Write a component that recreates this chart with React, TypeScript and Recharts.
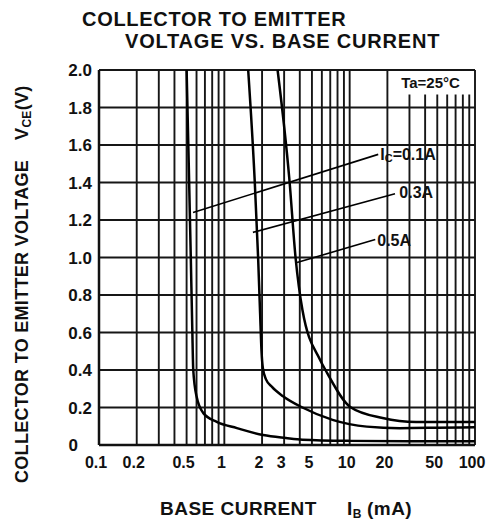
import { LineChart, Line, XAxis, YAxis, CartesianGrid, ReferenceLine, ReferenceArea, ReferenceDot } from 'recharts';

// grid positions on the log axis (every minor decade step)
const xGrid = [
  0.1, 0.2, 0.3, 0.4, 0.5, 0.6, 0.7, 0.8, 0.9,
  1, 2, 3, 4, 5, 6, 7, 8, 9,
  10, 20, 30, 40, 50, 60, 70, 80, 90, 100,
];
const xLabeled = [0.1, 0.2, 0.5, 1, 2, 3, 5, 10, 20, 50, 100];
const yTicks = [0, 0.2, 0.4, 0.6, 0.8, 1.0, 1.2, 1.4, 1.6, 1.8, 2.0];

// Ic = 0.1A
const ib01 = [0.5, 0.52, 0.54, 0.555, 0.565, 0.6, 0.68, 0.87, 1.26, 2.04, 3.1, 4.2, 10, 30, 100];
const vce01 = [2.0, 1.5, 1.0, 0.62, 0.4, 0.26, 0.17, 0.123, 0.09, 0.053, 0.037, 0.028, 0.022, 0.02, 0.02];

// Ic = 0.3A
const ib03 = [1.55, 1.75, 1.86, 1.93, 1.98, 2.03, 2.15, 2.4, 2.94, 4.2, 7.3, 13.7, 25, 50, 100];
const vce03 = [2.0, 1.4, 1.0, 0.7, 0.5, 0.41, 0.35, 0.31, 0.26, 0.2, 0.134, 0.098, 0.09, 0.092, 0.095];

// Ic = 0.5A
const ib05 = [2.66, 3.3, 3.7, 4.2, 5.8, 6.6, 10.1, 18.3, 34, 100];
const vce05 = [2.0, 1.42, 1.0, 0.72, 0.455, 0.385, 0.203, 0.144, 0.123, 0.123];

const toPoints = (xs: number[], ys: number[]) => xs.map((x, i) => ({ ib: x, vce: ys[i] }));

const FONT = '"Liberation Sans", Arial, sans-serif';

const XTick = ({ x, y, payload }: any) => {
  if (!xLabeled.includes(payload.value)) return null;
  return (
    <text x={x - 3} y={y + 15} textAnchor="middle" fontFamily={FONT} fontWeight="bold" fontSize={16} fill="#111">
      {payload.value}
    </text>
  );
};

const YTick = ({ x, y, payload }: any) => {
  const v = payload.value;
  const label = v === 0 ? '0' : v.toFixed(1);
  return (
    <text x={v === 0 ? x - 14 : x} y={y + 6} textAnchor="end" fontFamily={FONT} fontWeight="bold" fontSize={17} fill="#111">
      {label}
    </text>
  );
};

const CurveLabel = (text: string, sub?: string) => (props: any) => {
  const { viewBox } = props;
  const cx = viewBox.x ?? viewBox.cx;
  const cy = viewBox.y ?? viewBox.cy;
  return (
    <text x={cx + 2} y={cy + 6} fontFamily={FONT} fontWeight="bold" fontSize={16} fill="#111">
      {sub ? (
        <>
          {text}
          <tspan fontSize={11} dy={2}>{sub}</tspan>
          <tspan dy={-2}>=0.1A</tspan>
        </>
      ) : text}
    </text>
  );
};

export default function App() {
  return (
    <div style={{ position: 'absolute', left: 0, top: 0, width: 488, height: 521, background: '#fff' }}>
      <LineChart width={488} height={521} margin={{ top: 70, right: 13, bottom: 46, left: 39 }}>
        <CartesianGrid stroke="#161616" strokeWidth={1.9} />
        <XAxis
          dataKey="ib"
          type="number"
          scale="log"
          domain={[0.1, 100]}
          ticks={xGrid}
          allowDataOverflow
          height={30}
          tickLine={false}
          axisLine={{ stroke: '#111', strokeWidth: 2.5 }}
          tick={<XTick />}
          interval={0}
        />
        <YAxis
          type="number"
          domain={[0, 2]}
          ticks={yTicks}
          width={60}
          tickLine={false}
          tickSize={0}
          tickMargin={7}
          axisLine={{ stroke: '#111', strokeWidth: 2.5 }}
          tick={<YTick />}
          interval={0}
        />
        <ReferenceArea x1={21} x2={93} y1={1.87} y2={1.995} fill="#fff" fillOpacity={1} stroke="none"
          label={{ value: 'Ta=25°C', position: 'center', fontFamily: FONT, fontWeight: 'bold', fontSize: 15, fill: '#111' }} />
        <Line data={toPoints(ib01, vce01)} dataKey="vce" type="monotone" stroke="#000" strokeWidth={2.5} dot={false} isAnimationActive={false} />
        <Line data={toPoints(ib03, vce03)} dataKey="vce" type="monotone" stroke="#000" strokeWidth={2.5} dot={false} isAnimationActive={false} />
        <Line data={toPoints(ib05, vce05)} dataKey="vce" type="monotone" stroke="#000" strokeWidth={2.5} dot={false} isAnimationActive={false} />
        <ReferenceLine segment={[{ x: 0.563, y: 1.24 }, { x: 16.9, y: 1.55 }]} stroke="#000" strokeWidth={1.6} />
        <ReferenceLine segment={[{ x: 1.69, y: 1.134 }, { x: 23, y: 1.34 }]} stroke="#000" strokeWidth={1.6} />
        <ReferenceLine segment={[{ x: 3.8, y: 0.973 }, { x: 16, y: 1.096 }]} stroke="#000" strokeWidth={1.6} />
        <ReferenceDot x={16.9} y={1.55} r={0} stroke="none" label={CurveLabel('I', 'C')} />
        <ReferenceDot x={24} y={1.35} r={0} stroke="none" label={CurveLabel('0.3A')} />
        <ReferenceDot x={16} y={1.096} r={0} stroke="none" label={CurveLabel('0.5A')} />
      </LineChart>
      <svg width={488} height={521} style={{ position: 'absolute', left: 0, top: 0, pointerEvents: 'none' }}>
        <g fontFamily={FONT} fontWeight="bold" fill="#111">
          <text x={82} y={26} fontSize={20} letterSpacing={0.7}>COLLECTOR TO EMITTER</text>
          <text x={125} y={48} fontSize={20} letterSpacing={0.8}>VOLTAGE  VS. BASE CURRENT</text>
          <text x={160} y={515} fontSize={19} letterSpacing={0.5}>
            BASE CURRENT
            <tspan dx={30}>I</tspan>
            <tspan fontSize={12} dy={3}>B</tspan>
            <tspan dy={-3} dx={5}>(mA)</tspan>
          </text>
          <text transform="translate(28,483) rotate(-90)" fontSize={18} letterSpacing={0.3}>
            COLLECTOR TO EMITTER VOLTAGE
            <tspan dx={20}>V</tspan>
            <tspan fontSize={12} dy={3}>CE</tspan>
            <tspan dy={-3}>(V)</tspan>
          </text>
        </g>
      </svg>
    </div>
  );
}
